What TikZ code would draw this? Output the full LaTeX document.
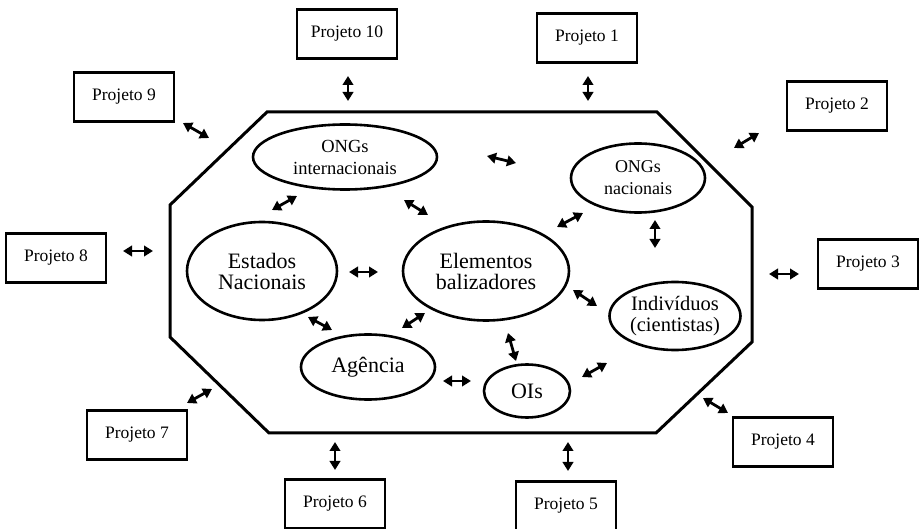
\documentclass[tikz,border=0pt]{standalone}
\usepackage{fontspec}
\setmainfont{Liberation Serif}
\usetikzlibrary{shapes.geometric, arrows.meta}

\begin{document}
\begin{tikzpicture}[x = 1pt, y = -1pt, >={Triangle[length = 9pt, width = 10.5pt]}]
        \tikzset{
            projbox/.style = {draw, line width = 2.8pt, rectangle, minimum width = 100pt, minimum height = 49pt, inner sep = 0pt, font = \fontsize{17.5}{19}\selectfont},
            actor/.style   = {draw, line width = 2.6pt, ellipse, inner sep = 0pt, align = center, font = \fontsize{22}{21}\selectfont},
            frame/.style   = {draw, line width = 3pt, line join = miter},
            link/.style    = {<->, line width = 2.8pt}
        }
        \useasboundingbox (0,0) rectangle (922,529);

        % contorno
        \draw[frame] (267,112) -- (657,112) -- (752,207) -- (752,342) -- (656,433) -- (269,433) -- (170,337) -- (170,205) -- cycle;

        \node[actor, minimum width = 184pt, minimum height = 65pt, font = \fontsize{18.5}{22}\selectfont] (ONGI) at (345,157) {ONGs\\internacionais};
        \node[actor, minimum width = 134pt, minimum height = 69pt, font = \fontsize{18}{22}\selectfont] (ONGN) at (638,178) {ONGs\\nacionais};
        \node[actor, minimum width = 150pt, minimum height = 98pt] (EST) at (262,271) {Estados\\Nacionais};
        \node[actor, minimum width = 166pt, minimum height = 99pt] (ELEM) at (486,271) {Elementos\\balizadores};
        \node[actor, minimum width = 131pt, minimum height = 68pt, font = \fontsize{20.5}{21}\selectfont] (IND) at (675,316) {Indivíduos\\(cientistas)};
        \node[actor, minimum width = 134pt, minimum height = 65pt] (AG) at (368,367) {Agência};
        \node[actor, minimum width = 86pt, minimum height = 53pt] (OIS) at (527,391) {OIs};

        \node[projbox] (P10) at (347,34) {Projeto 10};
        \node[projbox] (P1) at (587,38) {Projeto 1};
        \node[projbox] (P9) at (124,97) {Projeto 9};
        \node[projbox] (P2) at (837,106) {Projeto 2};
        \node[projbox] (P8) at (56,258) {Projeto 8};
        \node[projbox] (P3) at (868,264) {Projeto 3};
        \node[projbox] (P7) at (137,435) {Projeto 7};
        \node[projbox] (P4) at (783,442) {Projeto 4};
        \node[projbox] (P6) at (335,504) {Projeto 6};
        \node[projbox] (P5) at (566,506) {Projeto 5};

        % setas dos projetos
        \coordinate (P10-a) at (348,76);  \coordinate (P10-b) at (348,101); \draw[link] (P10-a) -- (P10-b);
        \coordinate (P1-a) at (588,76);   \coordinate (P1-b) at (588,101);  \draw[link] (P1-a) -- (P1-b);
        \coordinate (P9-a) at (183,123);  \coordinate (P9-b) at (209,138);  \draw[link] (P9-a) -- (P9-b);
        \coordinate (P2-a) at (734,148);  \coordinate (P2-b) at (759,133);  \draw[link] (P2-a) -- (P2-b);
        \coordinate (P8-a) at (123,251);  \coordinate (P8-b) at (153,251);  \draw[link] (P8-a) -- (P8-b);
        \coordinate (P3-a) at (769,274);  \coordinate (P3-b) at (799,274);  \draw[link] (P3-a) -- (P3-b);
        \coordinate (P7-a) at (187,403);  \coordinate (P7-b) at (212,389);  \draw[link] (P7-a) -- (P7-b);
        \coordinate (P4-a) at (703,398);  \coordinate (P4-b) at (728,413);  \draw[link] (P4-a) -- (P4-b);
        \coordinate (P6-a) at (335,442);  \coordinate (P6-b) at (335,470);  \draw[link] (P6-a) -- (P6-b);
        \coordinate (P5-a) at (568,442);  \coordinate (P5-b) at (568,471);  \draw[link] (P5-a) -- (P5-b);

        % setas internas
        \coordinate (ONGI-EST-a) at (272,210);   \coordinate (ONGI-EST-b) at (297,196);   \draw[link] (ONGI-EST-a) -- (ONGI-EST-b);
        \coordinate (ONGI-ELEM-a) at (404,200);  \coordinate (ONGI-ELEM-b) at (428,215);  \draw[link] (ONGI-ELEM-a) -- (ONGI-ELEM-b);
        \coordinate (ONGI-ONGN-a) at (487,156);  \coordinate (ONGI-ONGN-b) at (516,163);  \draw[link] (ONGI-ONGN-a) -- (ONGI-ONGN-b);
        \coordinate (ONGN-ELEM-a) at (557,227);  \coordinate (ONGN-ELEM-b) at (583,213);  \draw[link] (ONGN-ELEM-a) -- (ONGN-ELEM-b);
        \coordinate (ONGN-IND-a) at (655,220);   \coordinate (ONGN-IND-b) at (655,248);   \draw[link] (ONGN-IND-a) -- (ONGN-IND-b);
        \coordinate (EST-ELEM-a) at (349,272);   \coordinate (EST-ELEM-b) at (378,272);   \draw[link] (EST-ELEM-a) -- (EST-ELEM-b);
        \coordinate (EST-AG-a) at (308,317);     \coordinate (EST-AG-b) at (332,330);     \draw[link] (EST-AG-a) -- (EST-AG-b);
        \coordinate (ELEM-AG-a) at (402,328);    \coordinate (ELEM-AG-b) at (425,313);    \draw[link] (ELEM-AG-a) -- (ELEM-AG-b);
        \coordinate (ELEM-IND-a) at (573,290);   \coordinate (ELEM-IND-b) at (597,306);   \draw[link] (ELEM-IND-a) -- (ELEM-IND-b);
        \coordinate (ELEM-OIS-a) at (508,333);   \coordinate (ELEM-OIS-b) at (516,361);   \draw[link] (ELEM-OIS-a) -- (ELEM-OIS-b);
        \coordinate (AG-OIS-a) at (443,381);     \coordinate (AG-OIS-b) at (471,381);     \draw[link] (AG-OIS-a) -- (AG-OIS-b);
        \coordinate (OIS-IND-a) at (582,377);    \coordinate (OIS-IND-b) at (607,363);    \draw[link] (OIS-IND-a) -- (OIS-IND-b);
    \end{tikzpicture}
\end{document}
